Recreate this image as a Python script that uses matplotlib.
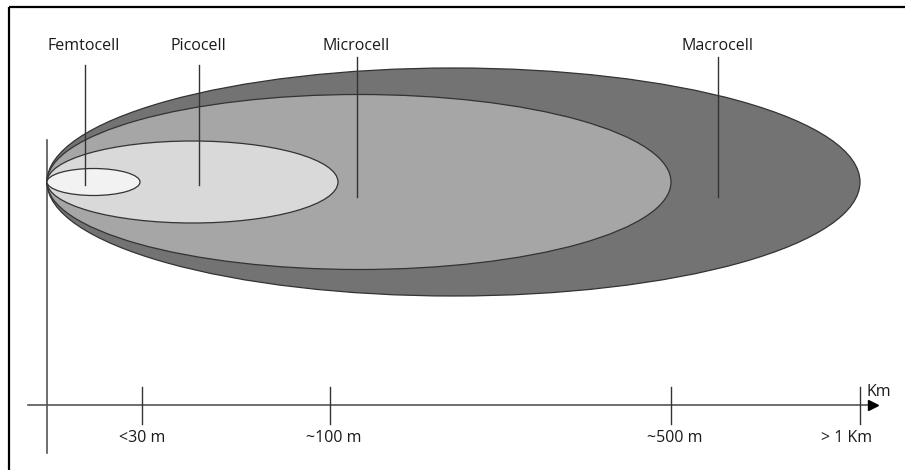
import matplotlib
matplotlib.use("Agg")
import matplotlib.pyplot as plt
from matplotlib.patches import Ellipse

plt.rcParams['font.family'] = ['Open Sans', 'DejaVu Sans']

# ---- data ----
cells = ['Femtocell', 'Picocell', 'Microcell', 'Macrocell']
cell_reach = [93, 291, 624, 813]        # horizontal extent (diagram units)
cell_width = [27, 82, 175, 228]         # vertical extent (diagram units)
cell_colors = ['#f2f2f2', '#d9d9d9', '#a6a6a6', '#737373']
label_x = [38, 152, 310, 671]           # leader line position along axis
tick_pos = [95, 283, 624, 813]
tick_labels = ['<30 m', '~100 m', '~500 m', '> 1 Km']
axis_unit = 'Km'

# ---- layout ----
W, H = 905, 470
x0, yc = 47, 182      # origin of cells
y_axis = 405
FS = 11.5

fig = plt.figure(figsize=(W / 100, H / 100), dpi=100)
ax = fig.add_axes([0, 0, 1, 1])
ax.set_xlim(0, W)
ax.set_ylim(H, 0)
ax.axis('off')

# frame (top and left)
ax.plot([9, 9], [H, 7], color='black', lw=1.6, solid_capstyle='butt')
ax.plot([9, W], [7, 7], color='black', lw=1.6, solid_capstyle='butt')

# ellipses, largest first
for i in reversed(range(len(cells))):
    r = cell_reach[i]
    h = cell_width[i]
    e = Ellipse((x0 + r / 2, yc), r, h, facecolor=cell_colors[i],
                edgecolor='#333333', lw=0.9, zorder=2 + (3 - i))
    ax.add_patch(e)

# leader lines and labels
top_lines = [65, 65, 57, 57]
bot_lines = [185, 185, 197, 197]
for i, name in enumerate(cells):
    lx = x0 + label_x[i]
    ax.plot([lx, lx], [top_lines[i], bot_lines[i]], color='#333333', lw=1.0, zorder=10)
    ax.text(lx - 1, 46, name, ha='center', va='center', fontsize=FS, color='#1a1a1a', zorder=10)

# vertical axis
ax.plot([x0, x0], [140, 453], color='#555555', lw=1.2, zorder=1)
# horizontal axis with arrow
ax.plot([28, 870], [y_axis, y_axis], color='#555555', lw=1.2, zorder=1)
ax.plot([873], [y_axis], marker='>', color='black', markersize=7, zorder=11)
ax.text(866, 392, axis_unit, ha='left', va='center', fontsize=FS, color='#1a1a1a')

# ticks
for tp, tl in zip(tick_pos, tick_labels):
    tx = x0 + tp
    ax.plot([tx, tx], [387, 424], color='#333333', lw=1.0, zorder=2)
    off = -13 if tl.startswith('>') else 4 if tl.startswith('~') else 0
    ax.text(tx + off, 438, tl, ha='center', va='center', fontsize=FS, color='#1a1a1a')

fig.savefig('out.png', dpi=100)
